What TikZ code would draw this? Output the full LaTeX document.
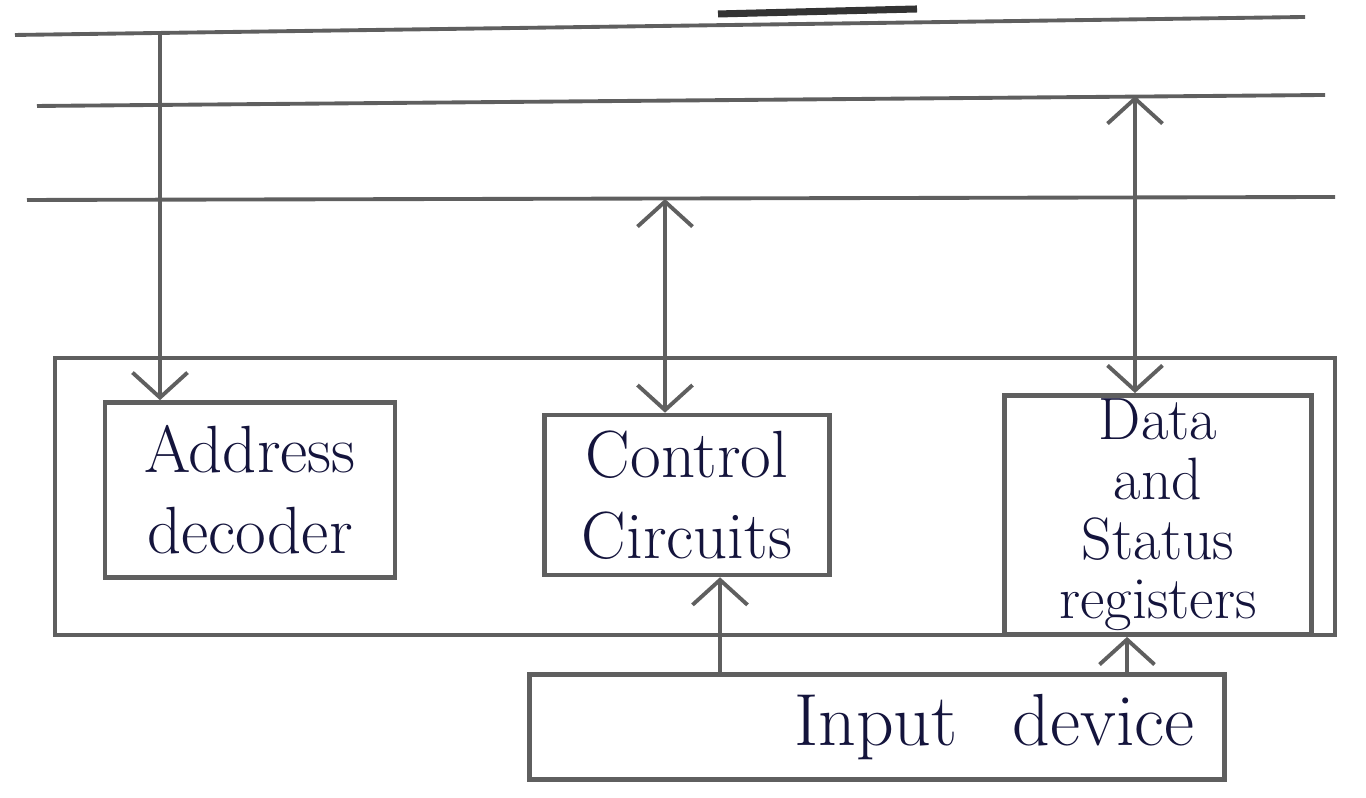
\documentclass[tikz,border=0pt]{standalone}
\usetikzlibrary{arrows.meta}
\definecolor{pencil}{RGB}{95,95,95}
\definecolor{ink}{RGB}{20,20,60}
\tikzset{
  block/.style={draw=pencil, line width=1.3pt, text=ink, align=center,
    font=\fontsize{19}{23}\selectfont},
  busline/.style={draw=pencil, line width=1.1pt},
  link/.style={draw=pencil, line width=1.1pt, arrows={-Straight Barb[length=2.5mm,width=5.5mm]}},
  duplex/.style={link, arrows={Straight Barb[length=2.5mm,width=5.5mm]-Straight Barb[length=2.5mm,width=5.5mm]}}
}
\begin{document}
\begin{tikzpicture}
  \useasboundingbox (0,0) rectangle (13.66,7.98);
  % bus lines
  \draw[busline] (0.15,7.63) -- (13.05,7.81);
  \draw[busline] (0.37,6.92) -- (13.25,7.03);
  \draw[busline] (0.27,5.98) -- (13.35,6.01);
  \draw[line width=2pt, draw=black!80] (7.18,7.84) -- (9.17,7.89);
  % interface
  \draw[busline, line width=1.3pt] (0.55,1.63) rectangle (13.35,4.40);
  \node[block, minimum width=2.9cm, minimum height=1.75cm] (addr) at (2.50,3.08) {Address\\decoder};
  \node[block, minimum width=2.85cm, minimum height=1.6cm] (ctrl) at (6.87,3.03) {Control\\Circuits};
  \node[block, minimum width=3.07cm, minimum height=2.2cm, inner ysep=1pt, font=\fontsize{17}{17}\selectfont] (data) at (11.58,2.83) {Data\\and\\Status\\registers};
  \node[block, minimum width=6.95cm, minimum height=1.05cm, text width=6.35cm, align=right, font=\fontsize{21}{25}\selectfont] (input) at (8.77,0.71) {Input\hspace{0.55cm}device\hspace{0.3cm}};
  % taps on the bus
  \coordinate (tapA) at (1.60,7.64);
  \coordinate (tapC) at (6.65,5.99);
  \coordinate (tapD) at (11.35,7.02);
  \coordinate (inC) at (7.20,0);
  \coordinate (inD) at (11.27,0);
  \draw[link] (tapA) -- (addr.north -| tapA);
  \draw[duplex] (tapC) -- (ctrl.north -| tapC);
  \draw[duplex] (tapD) -- (data.north -| tapD);
  \draw[link] (input.north -| inC) -- (ctrl.south -| inC);
  \draw[link] (input.north -| inD) -- (data.south -| inD);
\end{tikzpicture}
\end{document}
